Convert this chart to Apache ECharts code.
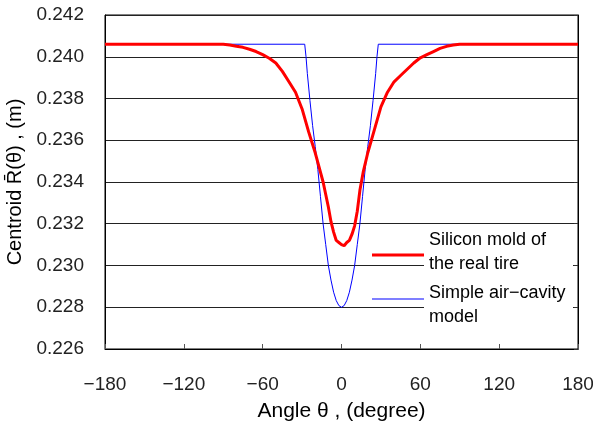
<!DOCTYPE html>
<html><head><meta charset="utf-8">
<script src="https://cdn.jsdelivr.net/npm/echarts@6/dist/echarts.min.js"></script>
<style>html,body{margin:0;padding:0;background:#fff}#c{width:593px;height:428px}</style>
</head><body><div id="c"></div>
<script>
const xTicks = [-180, -120, -60, 0, 60, 120, 180];
const yTicks = [0.226, 0.228, 0.230, 0.232, 0.234, 0.236, 0.238, 0.240, 0.242];

const redAngles = [-180, -90, -85, -80, -75, -70, -65, -60, -55, -50, -45, -40, -35, -30, -25, -20, -17, -14, -12, -10, -8, -6, -4, -2, 0, 2, 4, 6, 8, 10, 12, 14, 16.6, 20, 25, 30, 35, 40, 45, 50, 55, 60, 65, 70, 75, 80, 85, 90, 180];
const redValues = [0.2406, 0.2406, 0.24056, 0.2405, 0.24045, 0.24036, 0.24025, 0.2401, 0.23993, 0.2397, 0.2393, 0.2388, 0.2383, 0.2375, 0.2364, 0.2354, 0.2347, 0.2340, 0.2334, 0.2328, 0.2321, 0.2316, 0.2312, 0.2311, 0.2310, 0.23095, 0.2311, 0.2312, 0.2315, 0.2319, 0.2326, 0.2336, 0.2345, 0.2354, 0.2365, 0.2376, 0.2383, 0.2388, 0.2391, 0.2394, 0.2397, 0.23995, 0.2401, 0.24025, 0.2404, 0.2405, 0.24056, 0.2406, 0.2406];

const blueAngles = [-180, -28, -27, -26, -24, -22, -20, -18, -16, -14, -12, -10, -8, -6, -4, -2, 0, 2, 4, 6, 8, 10, 12, 14, 16, 18, 20, 22, 24, 26, 27, 28, 180];
const blueValues = [0.2406, 0.2406, 0.2400, 0.2392, 0.2379, 0.2367, 0.2357, 0.2346, 0.2333, 0.2320, 0.2310, 0.2300, 0.2293, 0.22872, 0.22832, 0.22808, 0.2280, 0.22808, 0.22832, 0.22872, 0.2293, 0.2300, 0.2310, 0.2320, 0.2333, 0.2346, 0.2357, 0.2367, 0.2379, 0.2392, 0.2400, 0.2406, 0.2406];

const seriesNames = ['Silicon mold of\nthe real tire', 'Simple air\u2212cavity\nmodel'];

const FONT = '"Liberation Sans", Arial, sans-serif';
const zip = (a, b) => a.map((v, i) => [v, b[i]]);

const chart = echarts.init(document.getElementById('c'), null, {renderer: 'canvas'});
chart.setOption({
  animation: false,
  backgroundColor: '#fff',
  grid: {left: 105, right: 15, top: 15, bottom: 79, show: true, borderColor: '#000', borderWidth: 1,
    containLabel: false, outerBoundsMode: 'none'},
  xAxis: {
    type: 'value', min: -180, max: 180, interval: 60,
    name: 'Angle \u03b8 , (degree)', nameLocation: 'middle', nameGap: 52,
    nameTextStyle: {fontFamily: FONT, fontSize: 21, color: '#000'},
    axisLine: {show: true, onZero: false, lineStyle: {color: '#000', width: 1}},
    axisTick: {show: true, inside: true, length: 5, lineStyle: {color: '#555'}},
    axisLabel: {margin: 26, fontFamily: FONT, fontSize: 19, color: '#222',
      formatter: v => (v < 0 ? '\u2212' + Math.abs(v) : String(v))},
    splitLine: {show: false}
  },
  yAxis: [{
    type: 'value', min: 0.226, max: 0.242, interval: 0.002,
    name: 'Centroid R\u0304(\u03b8) , (m)', nameLocation: 'middle', nameGap: 73,
    nameTextStyle: {fontFamily: FONT, fontSize: 20, color: '#000'},
    axisLine: {show: true, onZero: false, lineStyle: {color: '#000', width: 1}},
    axisTick: {show: false},
    axisLabel: {margin: 21, fontFamily: FONT, fontSize: 19, color: '#222', formatter: v => v.toFixed(3)},
    splitLine: {show: true, lineStyle: {color: '#222', width: 1}}
  }, {
    type: 'value', min: 0.226, max: 0.242, interval: 0.002, position: 'right',
    axisLine: {show: true, onZero: false, lineStyle: {color: '#000'}},
    axisTick: {show: true, inside: true, length: 4, lineStyle: {color: '#333'}},
    axisLabel: {show: false},
    splitLine: {show: false}
  }],
  legend: {
    orient: 'vertical', left: 372, top: 228, itemGap: 5,
    itemWidth: 52, itemHeight: 14,
    textStyle: {fontFamily: FONT, fontSize: 18, color: '#000', lineHeight: 24},
    data: [
      {name: seriesNames[0], icon: 'path://M0,0M52,14M0,8.5H52V11.5H0Z'},
      {name: seriesNames[1], icon: 'path://M0,0M52,14M0,0.5H52V1.5H0Z'}
    ],
    backgroundColor: 'transparent', padding: 0
  },
  graphic: [{
    type: 'rect', z: 1, silent: true,
    shape: {x: 424, y: 232, width: 149, height: 98},
    style: {fill: '#fff'}
  }],
  series: [{
    name: seriesNames[0], type: 'line', data: zip(redAngles, redValues),
    showSymbol: false, symbol: 'none', lineStyle: {color: '#ff0000', width: 3}, itemStyle: {color: '#ff0000'}, z: 3
  }, {
    name: seriesNames[1], type: 'line', data: zip(blueAngles, blueValues),
    showSymbol: false, symbol: 'none', lineStyle: {color: '#0000ff', width: 1}, itemStyle: {color: '#0000ff'}, z: 2
  }]
});
</script></body></html>
